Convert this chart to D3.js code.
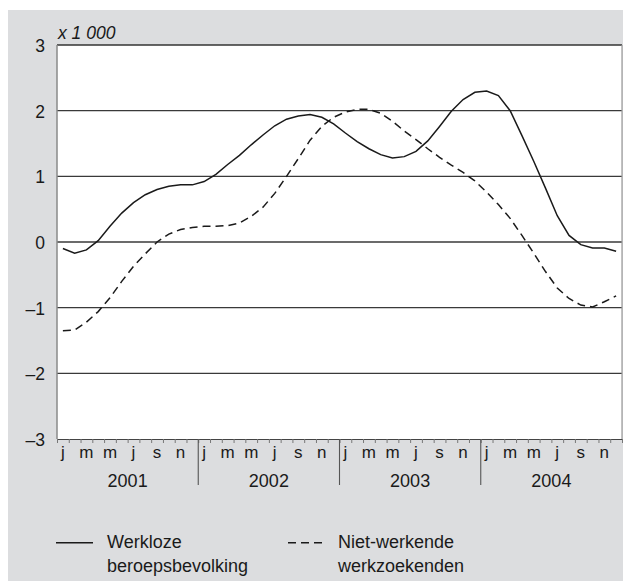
<!DOCTYPE html>
<html>
<head>
<meta charset="utf-8">
<script src="https://cdn.jsdelivr.net/npm/d3@7"></script>
<style>
  html, body { margin: 0; padding: 0; background: #ffffff; }
  svg { display: block; }
  text { font-family: "Liberation Sans", Arial, Helvetica, sans-serif; fill: #1a1a1a; }
</style>
</head>
<body>
<svg id="chart" width="623" height="581"></svg>
<script>
// ---- data ----
const years = ["2001", "2002", "2003", "2004"];
const monthLabels = ["j", "", "m", "", "m", "", "j", "", "s", "", "n", ""];
const yTicks = [3, 2, 1, 0, -1, -2, -3];
const yTickLabels = ["3", "2", "1", "0", "\u20131", "\u20132", "\u20133"];
const unitLabel = "x 1 000";

const werkloze = [
  -0.10, -0.17, -0.12, 0.02, 0.24, 0.44, 0.60, 0.72, 0.80, 0.85, 0.87, 0.87,
   0.92, 1.03, 1.18, 1.32, 1.48, 1.63, 1.77, 1.87, 1.92, 1.94, 1.90, 1.80,
   1.66, 1.53, 1.42, 1.33, 1.28, 1.30, 1.38, 1.54, 1.76, 1.99, 2.17, 2.28,
   2.30, 2.23, 2.00, 1.62, 1.23, 0.82, 0.40, 0.10, -0.04, -0.09, -0.09, -0.14
];
const nietWerkende = [
  -1.35, -1.34, -1.22, -1.06, -0.85, -0.60, -0.37, -0.18, 0.00, 0.12, 0.19, 0.22,
   0.24, 0.24, 0.25, 0.29, 0.39, 0.53, 0.74, 1.00, 1.27, 1.55, 1.76, 1.90,
   1.98, 2.02, 2.02, 1.96, 1.84, 1.69, 1.56, 1.42, 1.29, 1.17, 1.06, 0.93,
   0.76, 0.57, 0.36, 0.10, -0.17, -0.45, -0.70, -0.86, -0.96, -0.99, -0.91, -0.82
];
const seriesNames = [["Werkloze", "beroepsbevolking"], ["Niet-werkende", "werkzoekenden"]];

// ---- layout ----
const svg = d3.select("#chart");
const L = 57, R = 622, T = 45, B = 439;
const nMonths = years.length * 12;

svg.append("rect").attr("x", 8).attr("y", 10).attr("width", 623 - 8).attr("height", 581 - 10)
  .attr("fill", "#dcdddf");
svg.append("rect").attr("x", L).attr("y", T).attr("width", R - L).attr("height", B - T)
  .attr("fill", "#ffffff");

const x = d3.scaleLinear().domain([0, nMonths]).range([L, R]);
const y = d3.scaleLinear().domain([-3, 3]).range([B, T]);

// gridlines
svg.append("g").selectAll("line").data([2, 1, 0, -1, -2]).join("line")
  .attr("x1", L).attr("x2", R)
  .attr("y1", d => y(d)).attr("y2", d => y(d))
  .attr("stroke", "#3a3a3a").attr("stroke-width", 1.3);

// borders
svg.append("line").attr("x1", L).attr("x2", R).attr("y1", T).attr("y2", T)
  .attr("stroke", "#333").attr("stroke-width", 1.3);
svg.append("line").attr("x1", L).attr("x2", L).attr("y1", T).attr("y2", B)
  .attr("stroke", "#8a8a8a").attr("stroke-width", 1.5);
svg.append("line").attr("x1", R).attr("x2", R).attr("y1", T).attr("y2", B)
  .attr("stroke", "#9a9a9a").attr("stroke-width", 1.2);

// x axis: month ticks
const xAxis = d3.axisBottom(x)
  .tickValues(d3.range(0, nMonths + 1))
  .tickSize(4).tickSizeOuter(0).tickFormat("");
const gx = svg.append("g").attr("transform", `translate(0,${B})`).call(xAxis);
gx.select(".domain").attr("stroke", "#444").attr("stroke-width", 1.2);
gx.selectAll(".tick line").attr("stroke", "#777").attr("stroke-width", 1);

// month labels
const monthData = d3.range(nMonths).map(i => ({ i, label: monthLabels[i % 12] })).filter(d => d.label);
svg.append("g").selectAll("text").data(monthData).join("text")
  .attr("x", d => x(d.i + 0.5)).attr("y", 458)
  .attr("text-anchor", "middle").attr("font-size", 17)
  .text(d => d.label);

// year separators and labels
svg.append("g").selectAll("line").data(d3.range(1, years.length)).join("line")
  .attr("x1", d => x(d * 12)).attr("x2", d => x(d * 12))
  .attr("y1", B).attr("y2", 485)
  .attr("stroke", "#555").attr("stroke-width", 1.1);
svg.append("g").selectAll("text").data(years).join("text")
  .attr("x", (d, i) => x(i * 12 + 6)).attr("y", 487)
  .attr("text-anchor", "middle").attr("font-size", 18)
  .text(d => d);

// y labels
svg.append("g").selectAll("text").data(yTicks).join("text")
  .attr("x", 45).attr("y", d => y(d) + 7)
  .attr("text-anchor", "end").attr("font-size", 17.5)
  .text((d, i) => yTickLabels[i]);
svg.append("text").attr("x", 58).attr("y", 38.5)
  .attr("font-size", 17.5).attr("font-style", "italic").text(unitLabel);

// lines
const line = d3.line().x((d, i) => x(i + 0.5)).y(d => y(d));
svg.append("path").datum(nietWerkende).attr("d", line)
  .attr("fill", "none").attr("stroke", "#1a1a1a").attr("stroke-width", 1.5)
  .attr("stroke-dasharray", "8,5");
svg.append("path").datum(werkloze).attr("d", line)
  .attr("fill", "none").attr("stroke", "#1a1a1a").attr("stroke-width", 1.5);

// legend
const leg = [
  { x1: 56, x2: 93, tx: 107, dash: null, names: seriesNames[0] },
  { x1: 288, x2: 327, tx: 338, dash: "8,5", names: seriesNames[1] }
];
leg.forEach(l => {
  const g = svg.append("g");
  g.append("line").attr("x1", l.x1).attr("x2", l.x2).attr("y1", 542.7).attr("y2", 542.7)
    .attr("stroke", "#1a1a1a").attr("stroke-width", 1.5)
    .attr("stroke-dasharray", l.dash);
  g.selectAll("text").data(l.names).join("text")
    .attr("x", l.tx).attr("y", (d, i) => 548.3 + i * 23.4)
    .attr("font-size", 18).text(d => d);
});
</script>
</body>
</html>
